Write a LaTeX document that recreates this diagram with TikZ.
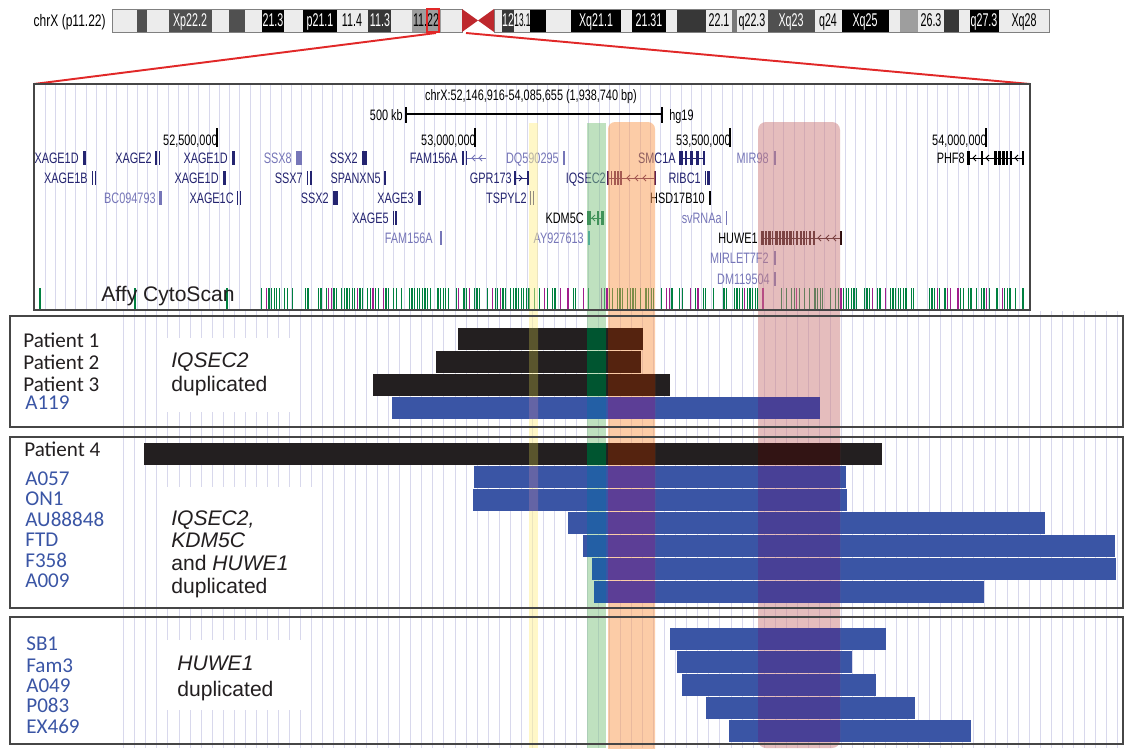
\documentclass[tikz,border=0pt]{standalone}
\usepackage{fontspec}
\setmainfont{Liberation Sans}
\newfontfamily\ucsc[FakeStretch=0.72]{Liberation Sans}
\newfontfamily\ucscband[FakeStretch=0.58]{Liberation Sans}
\newfontfamily\ucscnarrow[FakeStretch=0.45]{Liberation Sans}
\newfontfamily\cali{Carlito}
\definecolor{bandL}{RGB}{236,236,236}
\definecolor{bandD}{RGB}{80,80,80}
\definecolor{bandN}{RGB}{55,55,55}
\definecolor{bandM}{RGB}{158,158,158}
\definecolor{bandG}{RGB}{120,120,120}
\definecolor{cenred}{RGB}{190,40,45}
\definecolor{zoomred}{RGB}{225,40,40}
\definecolor{gridcol}{RGB}{216,216,236}
\definecolor{gnavy}{RGB}{36,36,112}
\definecolor{glite}{RGB}{118,118,184}
\definecolor{gteal}{RGB}{40,150,170}
\definecolor{iqpurple}{RGB}{80,25,85}
\definecolor{kdmgreen}{RGB}{0,95,50}
\definecolor{huwe}{RGB}{45,12,12}
\definecolor{affygrn}{RGB}{0,128,64}
\definecolor{affymag}{RGB}{160,30,140}
\definecolor{barblack}{RGB}{35,31,32}
\definecolor{barblue}{RGB}{58,85,165}
\definecolor{hlyellow}{RGB}{255,241,145}
\definecolor{hlgreen}{RGB}{129,197,129}
\definecolor{hlorange}{RGB}{251,155,81}
\definecolor{hlrose}{RGB}{205,125,125}
\definecolor{ovyk}{RGB}{90,85,45}
\definecolor{ovyb}{RGB}{100,100,165}
\definecolor{ovgk}{RGB}{0,85,48}
\definecolor{ovgb}{RGB}{35,95,165}
\definecolor{ovok}{RGB}{85,35,15}
\definecolor{ovob}{RGB}{92,62,150}
\definecolor{ovrk}{RGB}{50,20,20}
\definecolor{ovrb}{RGB}{72,64,150}
\definecolor{panelgray}{RGB}{70,70,70}
\begin{document}
\begin{tikzpicture}[x=0.02cm,y=-0.02cm,
  bandlbl/.style={font=\ucscband\fontsize{10.5}{10.5}\selectfont,inner sep=0pt,anchor=base},
  genelbl/.style={font=\ucsc\fontsize{8.6}{8.6}\selectfont,inner sep=0pt,anchor=base east},
  plab/.style={font=\cali\fontsize{12}{12}\selectfont,inner sep=0pt,text depth=0pt,anchor=base west,text=barblack},
  dlab/.style={font=\fontsize{12}{12}\selectfont,inner sep=0pt,anchor=base west,text=barblack},
  gridline/.style={draw=gridcol,line width=.55pt},
  zoomline/.style={draw=zoomred,line width=1.1pt},
  panel/.style={draw=panelgray,line width=.9pt},
  hl/.style={opacity=.5}]
\fill[white] (0,0) rectangle (1124,748);
\useasboundingbox (0,0) rectangle (1124,748);

% chromosome X ideogram
\foreach \xa/\xb/\c in {112/137/bandL,137/147/bandD,147/169/bandL,169/212/bandD,212/229/bandL,229/245/bandD,245/262/bandL,262/284/black,284/303/bandL,303/337/black,337/368/bandL,368/391/bandN,391/412/bandL,412/441/bandM,441/462/bandL,
  494/502/bandL,502/514/bandN,514/530/bandL,530/546/black,546/571/bandL,571/621/black,621/632/bandL,632/666/black,666/677/bandL,677/706/bandN,706/732/bandL,732/737/bandG,737/768/bandL,768/815/bandD,815/842/bandL,842/889/black,889/900/bandL,900/918/bandM,918/944/bandL,944/959/bandN,959/970/bandL,970/999/black,999/1049/bandL}
  \fill[\c] (\xa,9) rectangle (\xb,32);
\draw[gray,line width=.5pt] (112,9) rectangle (462,32) (494,9) rectangle (1049,32);
\fill[cenred] (462,9) -- (478,20.5) -- (494,9) -- (494,32) -- (478,20.5) -- (462,32) -- cycle;
\foreach \xc/\t/\c [count=\i] in {190/Xp22.2/white,273/21.3/white,320/p21.1/white,352/11.4/black,380/11.3/white,426/11.22/black,508/12/white,596/Xq21.1/white,649/21.31/white,719/22.1/black,752/q22.3/black,791/Xq23/white,828/q24/black,865/Xq25/white,931/26.3/black,984/q27.3/white,1024/Xq28/black}
  \node[bandlbl,text=\c] (band\i) at (\xc,26.7) {\t};
\node[bandlbl,font=\ucscnarrow\fontsize{10.5}{10.5}\selectfont] (bandq13) at (522.5,26.7) {13.1};
\node[bandlbl,font=\ucsc\fontsize{9.5}{9.5}\selectfont,anchor=base east] (chrlbl) at (106,26.7) {chrX (p11.22)};
\draw[zoomred,line width=.8pt] (427,9) rectangle (439,32);

% zoomed region
\coordinate (zoomL) at (436,33);
\coordinate (zoomR) at (466,33);
\coordinate (trackNW) at (34,84);
\coordinate (trackNE) at (1030,84);
\draw[zoomline] (zoomL) -- (trackNW);
\draw[zoomline] (zoomR) -- (trackNE);
\foreach \i in {0,...,95}
  \draw[gridline] ({45+10.26*\i},85) -- ({45+10.26*\i},309);
\foreach \i in {0,...,90}
  \draw[gridline] ({123.8+11.04*\i},311) -- ({123.8+11.04*\i},748);
\fill[white] (157,338) rectangle (293,412);
\fill[white] (157,487) rectangle (314,607);
\fill[white] (167,640) rectangle (301,710);

\node[genelbl,anchor=base] (title) at (531,100) {chrX:52,146,916-54,085,655 (1,938,740 bp)};
\draw[line width=.6pt] (406,107) -- (406,123) (406,114) -- (662,114) (662,107) -- (662,123);
\node[genelbl] (sbar) at (403,120.5) {500 kb};
\node[genelbl,anchor=base west] (hg) at (669,120) {hg19};
\foreach \x/\t [count=\i] in {217/{52,500,000},475/{53,000,000},730/{53,500,000},986/{54,000,000}}{
  \draw[line width=.6pt] (\x,128) -- (\x,147);
  \node[genelbl] (pos\i) at (\x+1,145) {\t};
}
\foreach \x/\y/\t/\c [count=\i] in {79/158/XAGE1D/gnavy,152/158/XAGE2/gnavy,228/158/XAGE1D/gnavy,292/158/SSX8/glite,358/158/SSX2/gnavy,458/158/FAM156A/gnavy,559/158/DQ590295/glite,676/158/SMC1A/gnavy,769/158/MIR98/glite,965/158/PHF8/black,
  88/178/XAGE1B/gnavy,219/178/XAGE1D/gnavy,303/178/SSX7/gnavy,381/178/SPANXN5/gnavy,512/178/GPR173/gnavy,606/178/IQSEC2/gnavy,701/178/RIBC1/gnavy,
  156/198/BC094793/glite,234/198/XAGE1C/gnavy,329/198/SSX2/gnavy,414/198/XAGE3/gnavy,527/198/TSPYL2/gnavy,705/198/HSD17B10/black,
  389/218/XAGE5/gnavy,584/218/KDM5C/black,722/218/svRNAa/glite,
  433/238/FAM156A/glite,584/238/AY927613/glite,758/238/HUWE1/black,
  769/258/MIRLET7F2/glite,770/279/DM119504/glite}
  \node[genelbl,text=\c] (gene\i) at (\x,\y+5.4) {\t};
\foreach \xa/\xb/\y/\c in {83/86/158/gnavy,155/156.5/158/gnavy,158.5/160/158/gnavy,232/234.5/158/gnavy,296/302/158/glite,362/367/158/gnavy,462/463.5/158/gnavy,465.5/467/158/gnavy,563/564.5/158/glite,774/775.5/158/glite,
  679/683/158/gnavy,685/687/158/gnavy,690/693/158/gnavy,696/699/158/gnavy,703/705/158/gnavy,
  967/970/158/black,981/982.5/158/black,994/996.5/158/black,998/1000.5/158/black,1002/1004.5/158/black,1006/1008/158/black,1010/1012/158/black,1022/1023.5/158/black,
  92/93/178/gnavy,94.5/95.5/178/gnavy,223/226/178/gnavy,307/308/178/gnavy,309.5/312/178/gnavy,384/386/178/gnavy,514/515.5/178/gnavy,527/528.5/178/gnavy,705/706/178/gnavy,707/709.5/178/gnavy,
  607/609/178/iqpurple,610.5/612/178/iqpurple,613.5/615.5/178/iqpurple,617/619/178/iqpurple,620/621.5/178/iqpurple,654/655.5/178/iqpurple,
  159/162/198/glite,237/238/198/gnavy,240/241/198/gnavy,333/338/198/gnavy,418/421/198/gnavy,530/531/198/gnavy,533/534/198/gnavy,709/711/198/black,
  393/394/218/gnavy,395/396.5/218/gnavy,726/727.2/218/glite,587/590.5/218/kdmgreen,597/599/218/kdmgreen,600.5/604/218/kdmgreen,
  440/441.5/238/glite,588/589.5/238/gteal,
  761/764/238/huwe,765/766.5/238/huwe,768/771/238/huwe,772/773/238/huwe,775/778/238/huwe,779/781/238/huwe,782/785/238/huwe,786/787.5/238/huwe,789/792/238/huwe,793/794/238/huwe,796/798/238/huwe,800/801.5/238/huwe,803/804.5/238/huwe,806/807/238/huwe,809/810.5/238/huwe,813/814.5/238/huwe,840/841.5/238/huwe,
  774/775.5/258/glite,774/775.5/279/glite}
  \fill[\c] (\xa,\y-7) rectangle (\xb,\y+7);
\foreach \xa/\xb/\y/\c in {467/486/158/glite,515/527/178/gnavy,679/705/158/gnavy,607/655/178/iqpurple,587/604/218/kdmgreen,761/841/238/huwe,967/1023/158/black}
  \draw[\c,line width=.5pt] (\xa,\y) -- (\xb,\y);
\foreach \x/\y/\c in {472/158/glite,479/158/glite,627/178/iqpurple,635/178/iqpurple,643/178/iqpurple,592/218/kdmgreen,818/238/huwe,826/238/huwe,833/238/huwe,973/158/black,986/158/black,1015/158/black}
  \draw[\c,line width=.5pt] (\x+3,\y-3) -- (\x,\y) -- (\x+3,\y+3);
\draw[gnavy,line width=.5pt] (519,175) -- (522,178) -- (519,181);

% Affy CytoScan probes
\foreach \x in {40,135,227}
  \draw[affygrn,line width=.7pt] (\x,288) -- (\x,309);
\pgfmathsetseed{11}
\foreach \x in {256,258.6,...,1027}{
  \pgfmathsetmacro\r{rnd}
  \ifdim\r pt<0.1pt \draw[affymag,line width=.7pt] (\x,288) -- (\x,309);
  \else\ifdim\r pt<0.62pt \draw[affygrn,line width=.7pt] (\x,288) -- (\x,309);\fi\fi
}
\node[dlab] (affy) at (101,301) {Affy CytoScan};

% duplications
\def\blackbars{458/643/328,436/641/351,373/670/374,144/882/443}
\def\bluebars{392/820/397,474/846/466,473/847/489,568/1045/512,583/1115/535,592/1116/558,594/984/581,670/886/628,677/852/651,682/876/674,706/915/697,729/971/720}
\foreach \xl/\xr/\y in \blackbars
  \fill[barblack] (\xl,\y) rectangle (\xr,\y+22);
\foreach \xl/\xr/\y in \bluebars
  \fill[barblue] (\xl,\y) rectangle (\xr,\y+22);

% highlighted genes
\fill[hlyellow,hl] (529,123) rectangle (538,748);
\fill[hlgreen,hl] (587,123) rectangle (606,748);
\fill[hlorange,hl,rounded corners=4pt] (608,122) rectangle (655,760);
\fill[hlrose,hl,rounded corners=4.5pt] (758,122) rectangle (840,748);
\foreach \xa/\xb/\ck/\cb in {529/538/ovyk/ovyb,587/606/ovgk/ovgb,608/655/ovok/ovob,758/840/ovrk/ovrb}{
  \begin{scope}
    \clip (\xa,320) rectangle (\xb,748);
    \foreach \xl/\xr/\y in \blackbars \fill[\ck] (\xl,\y) rectangle (\xr,\y+22);
    \foreach \xl/\xr/\y in \bluebars \fill[\cb] (\xl,\y) rectangle (\xr,\y+22);
  \end{scope}
}

\draw[draw=panelgray,line width=.8pt] (trackNW) rectangle (1030,310);
\draw[panel] (10,316) rectangle (1123,427);
\draw[panel] (10,437) rectangle (1123,608);
\draw[panel] (10,617) rectangle (1123,744);

% labels
\node[plab] (pat1) at (23,347) {Patient 1};
\node[plab] (pat2) at (23,369.5) {Patient 2};
\node[plab] (pat3) at (23,391.5) {Patient 3};
\node[plab,text=barblue] (a119) at (25,409.5) {A119};
\node[dlab] (dupa1) at (171,367) {\textit{IQSEC2}};
\node[dlab] (dupa2) at (171,391) {duplicated};
\node[plab] (pat4) at (24,456) {Patient 4};
\foreach \t/\y [count=\i] in {A057/485,ON1/505.5,AU88848/526,FTD/546.5,F358/567,A009/587.5}
  \node[plab,text=barblue] (mid\i) at (25,\y) {\t};
\node[dlab] (dupb1) at (171,525) {\textit{IQSEC2,}};
\node[dlab] (dupb2) at (171,547.7) {\textit{KDM5C}};
\node[dlab] (dupb3) at (171,570.3) {and \textit{HUWE1}};
\node[dlab] (dupb4) at (171,593) {duplicated};
\foreach \t/\y [count=\i] in {SB1/650,Fam3/672,A049/692.7,P083/712.7,EX469/733.3}
  \node[plab,text=barblue] (low\i) at (26,\y) {\t};
\node[dlab] (dupc1) at (177,670) {\textit{HUWE1}};
\node[dlab] (dupc2) at (177,696) {duplicated};
\end{tikzpicture}
\end{document}
